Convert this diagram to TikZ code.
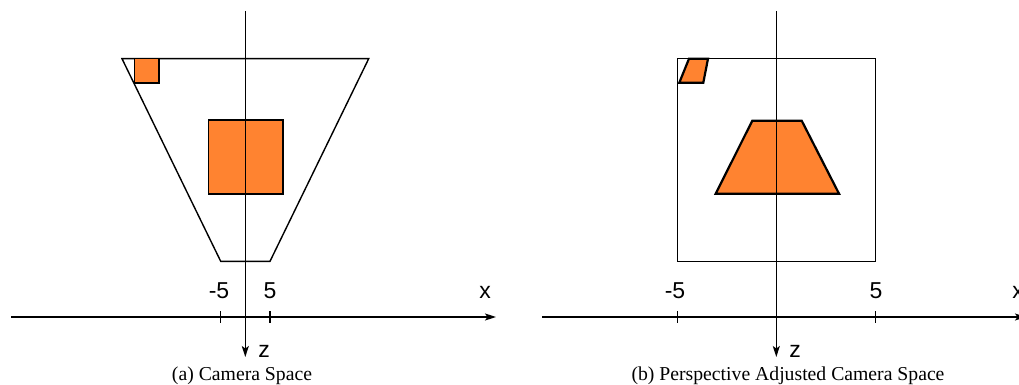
\documentclass[tikz,border=0pt]{standalone}
\usepackage{fontspec}
\setmainfont{Liberation Serif}
\newfontfamily\lsans{Liberation Sans}
\usetikzlibrary{arrows.meta}
\definecolor{shapeorange}{RGB}{255,131,48}
\begin{document}
\begin{tikzpicture}[x=1pt,y=-1pt,
  axis/.style={line width=1.3pt,-{Stealth[length=11pt,width=7pt,inset=2.5pt]}},
  tickline/.style={line width=1.1pt},
  frame/.style={line width=1.4pt,line join=miter},
  blockleft/.style={fill=shapeorange,draw=black,line width=1.6pt},
  blockright/.style={fill=shapeorange,draw=black,line width=2.2pt,line join=miter},
  lab/.style={font=\lsans\fontsize{23}{26}\selectfont,anchor=base,inner sep=0pt},
  captext/.style={font=\fontsize{19.7}{22}\selectfont,anchor=base,inner sep=0pt}]
\useasboundingbox (0,0) rectangle (1019,385);
% ---------- left panel ----------
\draw[frame] (122,58.7) -- (368.7,58.7) -- (270,261.3) -- (220.7,261.3) -- cycle;
\draw[blockleft] (134.3,58.7) rectangle (159,83.3);
\draw[blockleft] (208.3,120) rectangle (282.7,194);
\coordinate (axL1) at (11,317);
\coordinate (axL2) at (496,317);
\coordinate (azL1) at (245.3,11);
\coordinate (azL2) at (245.3,357);
\draw[axis] (axL1) -- (axL2);
\draw[axis] (azL1) -- (azL2);
\draw[tickline] (220.7,311) -- (220.7,323);
\draw[tickline] (270,311) -- (270,323);
\node[lab] (lm5) at (219,298) {-5};
\node[lab] (lp5) at (270,298) {5};
\node[lab] (lx) at (485,298) {x};
\node[lab] (lz) at (264,357) {z};
\node[captext] (capa) at (242,380) {(a) Camera Space};
% ---------- right panel ----------
\draw[frame] (677.7,58.7) rectangle (875.3,261.3);
\draw[blockright] (689,58.7) -- (708,58.7) -- (703.3,82.7) -- (679.3,82.7) -- cycle;
\draw[blockright] (752.3,120.7) -- (801.7,120.7) -- (839,193.7) -- (715.7,193.7) -- cycle;
\coordinate (axR1) at (542,317);
\coordinate (axR2) at (1026,317);
\coordinate (azR1) at (776.3,11);
\coordinate (azR2) at (776.3,357);
\draw[axis] (axR1) -- (axR2);
\draw[axis] (azR1) -- (azR2);
\draw[tickline] (677.7,311) -- (677.7,323);
\draw[tickline] (875.7,311) -- (875.7,323);
\node[lab] (rm5) at (675,298) {-5};
\node[lab] (rp5) at (876,298) {5};
\node[lab] (rx) at (1018,298) {x};
\node[lab] (rz) at (795,357) {z};
\node[captext] (capb) at (788,380) {(b) Perspective Adjusted Camera Space};
\end{tikzpicture}
\end{document}
